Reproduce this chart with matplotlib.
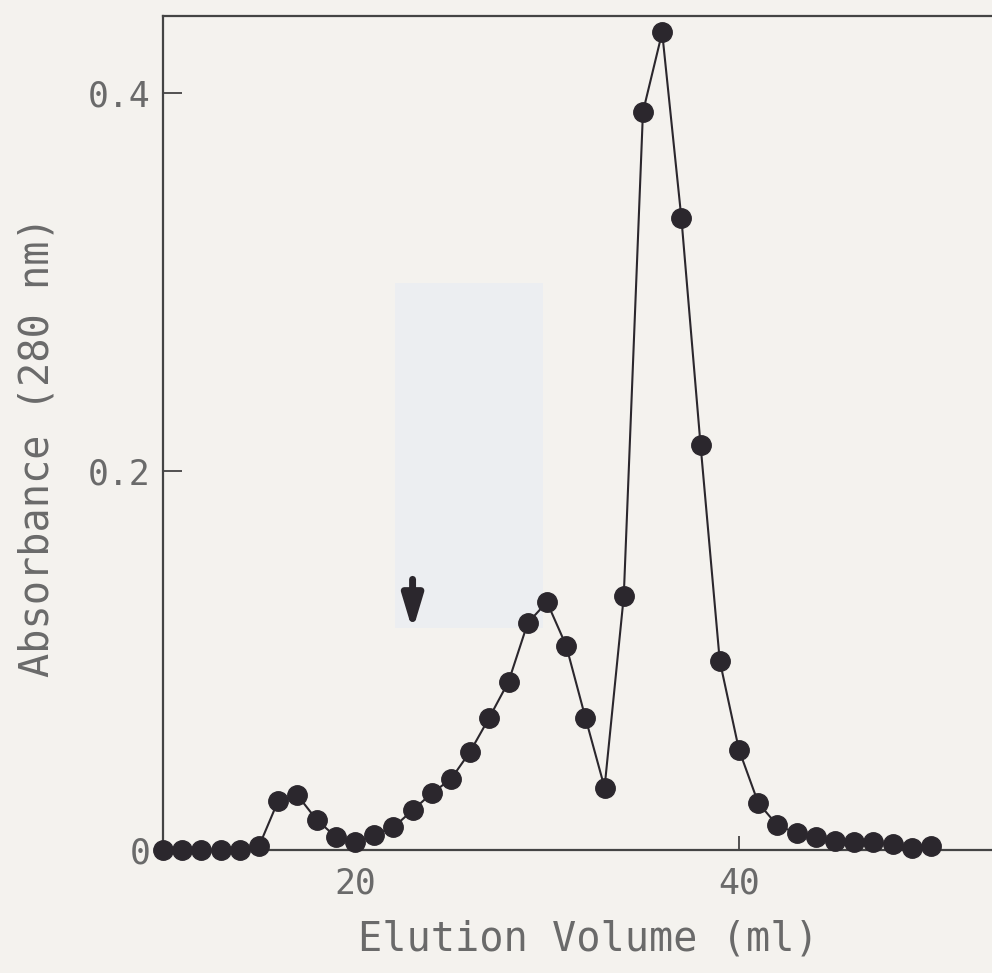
import matplotlib
matplotlib.use("agg")
import matplotlib.pyplot as plt
from matplotlib.patches import Rectangle

# elution volume (ml) and absorbance at 280 nm
volume = [10, 11, 12, 13, 14, 15, 16, 17, 18, 19, 20, 21, 22, 23, 24, 25,
          26, 27, 28, 29, 30, 31, 32, 33, 34, 35, 36, 37, 38, 39, 40, 41,
          42, 43, 44, 45, 46, 47, 48, 49, 50]
absorbance = [0.0, 0.0, 0.0, 0.0, 0.0, 0.002, 0.026, 0.029, 0.016, 0.007,
              0.004, 0.008, 0.012, 0.021, 0.030, 0.0375, 0.052, 0.070, 0.089,
              0.120, 0.131, 0.108, 0.070, 0.033, 0.134, 0.390, 0.432, 0.334,
              0.214, 0.100, 0.053, 0.025, 0.013, 0.009, 0.007, 0.005, 0.004,
              0.004, 0.003, 0.001, 0.002]
x_ticks = [20, 40]
y_ticks = [0, 0.2, 0.4]
y_tick_labels = ["0", "0.2", "0.4"]
arrow_volume = 23
arrow_top, arrow_tip = 0.143, 0.116

bg = "#f4f2ee"
ink = "#2b272d"
grey = "#6a6a6a"

plt.rcParams["font.family"] = ["DejaVu Sans Mono", "DejaVu Sans"]

fig = plt.figure(figsize=(9.92, 9.73), dpi=100)
fig.patch.set_facecolor(bg)

ax = fig.add_axes([0.1643, 0.1264, 0.8357, 0.8572])
ax.set_facecolor("none")
ax.set_zorder(2)

# pale bluish patch from the scanned page
fig.patches.append(Rectangle((395 / 992, 1 - 628 / 973), 148 / 992, 345 / 973,
                             transform=fig.transFigure, facecolor="#eceef1",
                             edgecolor="none", zorder=-1))

ax.plot(volume, absorbance, color=ink, lw=1.5, marker="o", markersize=14,
        markerfacecolor=ink, markeredgecolor=ink, clip_on=False, zorder=3)

ax.annotate("", xy=(arrow_volume, arrow_tip), xytext=(arrow_volume, arrow_top),
            arrowprops=dict(arrowstyle="-|>,head_length=2.0,head_width=0.6",
                            lw=5, color=ink, shrinkA=0, shrinkB=0))

ax.set_xlim(10, 53.18)
ax.set_ylim(0, 0.4407)

for side in ["left", "top", "bottom"]:
    ax.spines[side].set_color("#444444")
    ax.spines[side].set_linewidth(1.6)
ax.spines["right"].set_visible(False)

ax.set_xticks(x_ticks)
ax.set_yticks(y_ticks)
ax.set_yticklabels(y_tick_labels)
ax.tick_params(axis="y", direction="in", length=14, width=1.3, color="#444444",
               pad=9, labelsize=25, labelcolor=grey)
ax.tick_params(axis="x", direction="in", length=10, width=1.3, color="#444444",
               pad=12, labelsize=25, labelcolor=grey)

fig.text(588 / 992, 1 - 940 / 973, "Elution Volume (ml)", ha="center",
         va="center", fontsize=29, color=grey)
fig.text(38 / 992, 1 - 447 / 973, "Absorbance (280 nm)", ha="center",
         va="center", rotation=90, fontsize=29, color=grey)

fig.savefig("out.png", dpi=100, facecolor=bg)
